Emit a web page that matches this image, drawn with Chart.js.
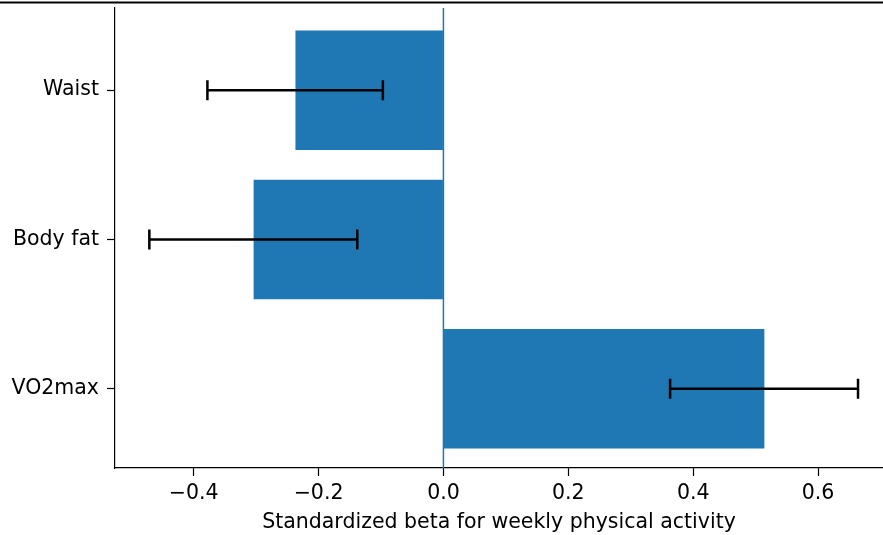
<!DOCTYPE html>
<html>
<head>
<meta charset="utf-8">
<script src="https://cdn.jsdelivr.net/npm/chart.js@4.4.0/dist/chart.umd.min.js"></script>
<style>
  html, body { margin: 0; padding: 0; background: #fff; }
  #wrap { width: 883px; height: 535px; position: relative; }
</style>
</head>
<body>
<div id="wrap"><canvas id="myChart"></canvas></div>
<script>
const categories = ['Waist', 'Body fat', 'VO2max'];
const betas = [-0.237, -0.304, 0.514];
const ciLow = [-0.378, -0.471, 0.363];
const ciHigh = [-0.097, -0.138, 0.664];
const xTicks = [-0.4, -0.2, 0.0, 0.2, 0.4, 0.6];

const blue = '#1f77b4';
const font = { family: 'DejaVu Sans', size: 20.5 };

// error bars + zero line, drawn from the chart scales
const extras = {
  id: 'extras',
  afterDatasetsDraw(chart) {
    const c = chart.ctx;
    const x = chart.scales.x;
    const y = chart.scales.y;
    const area = chart.chartArea;
    c.save();
    // zero line
    c.strokeStyle = blue;
    c.lineWidth = 1.5;
    c.beginPath();
    c.moveTo(x.getPixelForValue(0), area.top);
    c.lineTo(x.getPixelForValue(0), area.bottom);
    c.stroke();
    // error bars
    c.strokeStyle = '#000';
    c.lineWidth = 2.5;
    categories.forEach(function(cat, i) {
      const py = y.getPixelForValue(i);
      const x0 = x.getPixelForValue(ciLow[i]);
      const x1 = x.getPixelForValue(ciHigh[i]);
      c.beginPath();
      c.moveTo(x0, py);
      c.lineTo(x1, py);
      c.moveTo(x0, py - 10);
      c.lineTo(x0, py + 10);
      c.moveTo(x1, py - 10);
      c.lineTo(x1, py + 10);
      c.stroke();
    });
    // frame line at the very top of the picture
    c.lineWidth = 2;
    c.beginPath();
    c.moveTo(0, 2.5);
    c.lineTo(chart.width, 2.5);
    c.stroke();
    c.restore();
  }
};

const ctx = document.getElementById('myChart').getContext('2d');
const chart = new Chart(ctx, {
  type: 'bar',
  data: {
    datasets: [{
      data: betas.map(function(v, i) { return { x: v, y: i }; }),
      backgroundColor: blue,
      borderWidth: 0,
      categoryPercentage: 0.8,
      barPercentage: 1.0
    }]
  },
  options: {
    indexAxis: 'y',
    responsive: true,
    maintainAspectRatio: false,
    animation: false,
    layout: { padding: { top: 8, right: 0, left: 0, bottom: 0 } },
    plugins: { legend: { display: false }, tooltip: { enabled: false } },
    scales: {
      x: {
        type: 'linear',
        min: -0.526,
        max: 0.704,
        afterBuildTicks: function(axis) {
          axis.ticks = xTicks.map(function(v) { return { value: v }; });
        },
        afterFit: function(axis) {
          axis.height = 67;
          axis.paddingLeft = 0;
          axis.paddingRight = 0;
        },
        ticks: {
          font: font,
          color: '#000',
          padding: 5,
          callback: function(v) { return v.toFixed(1).replace('-', '\u2212'); }
        },
        grid: { drawOnChartArea: false, drawTicks: true, tickLength: 8, tickColor: '#000', tickWidth: 1.2 },
        border: { display: true, color: '#000', width: 1.2 },
        title: {
          display: true,
          text: 'Standardized beta for weekly physical activity',
          font: font,
          color: '#000',
          padding: { top: 1, bottom: 0 }
        }
      },
      y: {
        type: 'linear',
        reverse: true,
        offset: false,
        min: -0.55,
        max: 2.53,
        afterBuildTicks: function(axis) {
          axis.ticks = categories.map(function(c, i) { return { value: i }; });
        },
        afterFit: function(axis) {
          axis.width = 115;
          axis.paddingTop = 0;
          axis.paddingBottom = 0;
        },
        ticks: {
          font: font,
          color: '#000',
          padding: 8,
          callback: function(v) { return categories[v]; }
        },
        grid: { offset: false, drawOnChartArea: false, drawTicks: true, tickLength: 8, tickColor: '#000', tickWidth: 1.2 },
        border: { display: true, color: '#000', width: 1.2 }
      }
    }
  },
  plugins: [extras]
});
</script>
</body>
</html>
